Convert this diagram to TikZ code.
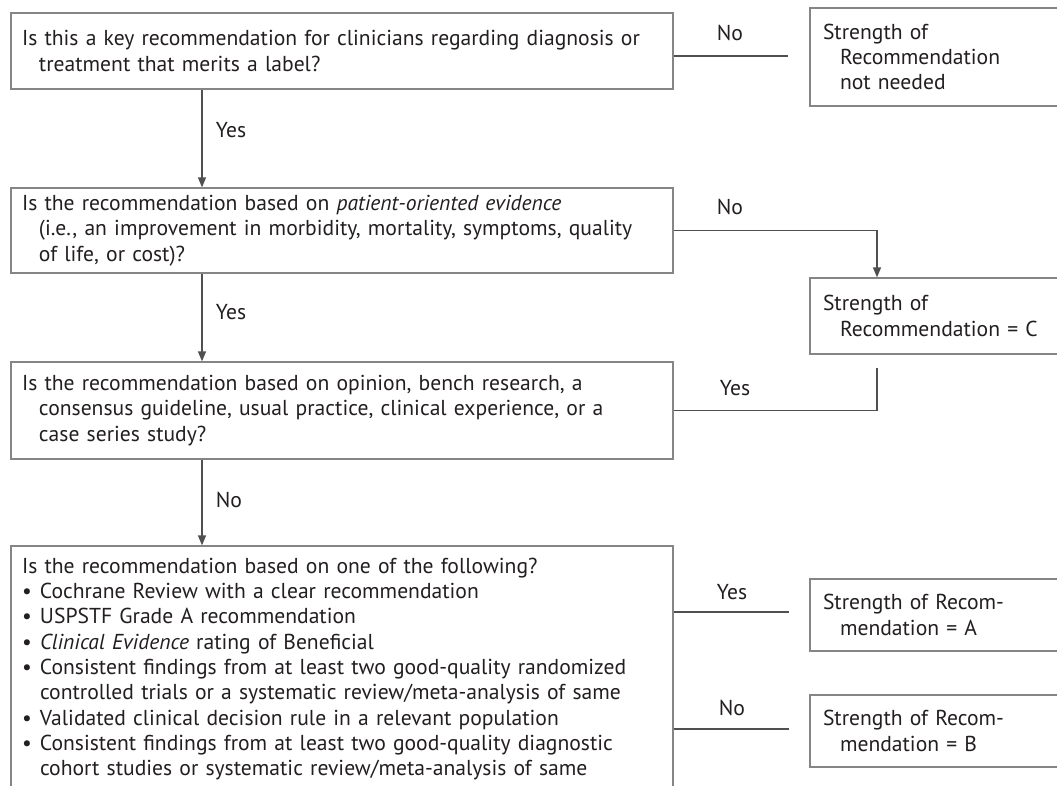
\documentclass[tikz,border=0pt]{standalone}
\usepackage{fontspec}
\setmainfont{PT Sans}
\usetikzlibrary{arrows.meta}
\definecolor{boxgray}{HTML}{858585}
\definecolor{linegray}{HTML}{505050}
\definecolor{txt}{HTML}{231F20}
\newcommand\diafont{\fontsize{21.6}{25.3}\selectfont}
\newcommand\Lin[1]{\mbox{#1}}
\begin{document}
\begin{tikzpicture}[x=1pt,y=-1pt,
  box/.style={draw=boxgray, line width=1.3pt, rectangle, align=left, inner ysep=0pt, font=\diafont, text=txt},
  lbox/.style={box, inner xsep=11pt, text width=640pt},
  rbox/.style={box, inner xsep=13pt, text width=234pt},
  conn/.style={draw=linegray, line width=1.3pt},
  arr/.style={conn, -{Triangle[length=10pt,width=8pt]}},
  lab/.style={font=\diafont, text=txt}
]
\useasboundingbox (0,0) rectangle (1057,785);
\fill[white] (0,0) rectangle (1057,785);
\clip (0,0) rectangle (1057,785);

% left column
\node[lbox, minimum height=76pt] (b1) at (342,51)
  {\Lin{Is this a key recommendation for clinicians regarding diagnosis or}\\
   \Lin{\hspace*{17pt}treatment that merits a label?}};
\node[lbox, minimum height=85pt] (b2) at (342,230.5)
  {\Lin{Is the recommendation based on \textit{patient-oriented evidence}}\\
   \Lin{\hspace*{17pt}(i.e., an improvement in morbidity, mortality, symptoms, quality}\\
   \Lin{\hspace*{17pt}of life, or cost)?}};
\node[lbox, minimum height=97pt] (b3) at (342,410.5)
  {\Lin{Is the recommendation based on opinion, bench research, a}\\
   \Lin{\hspace*{17pt}consensus guideline, usual practice, clinical experience, or a}\\
   \Lin{\hspace*{17pt}case series study?}};
\node[lbox, minimum height=246pt] (b4) at (342,669)
  {\Lin{Is the recommendation based on one of the following?}\\
   \Lin{\makebox[18pt][l]{•}Cochrane Review with a clear recommendation}\\
   \Lin{\makebox[18pt][l]{•}USPSTF Grade A recommendation}\\
   \Lin{\makebox[18pt][l]{•}\textit{Clinical Evidence} rating of Beneficial}\\
   \Lin{\makebox[18pt][l]{•}Consistent findings from at least two good-quality randomized}\\
   \Lin{\hspace*{18pt}controlled trials or a systematic review/meta-analysis of same}\\
   \Lin{\makebox[18pt][l]{•}Validated clinical decision rule in a relevant population}\\
   \Lin{\makebox[18pt][l]{•}Consistent findings from at least two good-quality diagnostic}\\
   \Lin{\hspace*{18pt}cohort studies or systematic review/meta-analysis of same}};

% right column
\node[rbox, minimum height=98pt] (nn) at (940,57)
  {Strength of\\ \hspace*{17pt}Recommendation\\ \hspace*{17pt}not needed};
\node[rbox, minimum height=76pt] (bC) at (940,316)
  {Strength of\\ \Lin{\hspace*{17pt}Recommendation = C}};
\node[rbox, minimum height=72pt] (bA) at (940,615)
  {\Lin{Strength of Recom-}\\ \hspace*{17pt}mendation = A};
\node[rbox, minimum height=72pt] (bB) at (940,731)
  {\Lin{Strength of Recom-}\\ \hspace*{17pt}mendation = B};

% labels
\node[lab] (lno1) at (730,33) {No};
\node[lab] (lyes1) at (231,130) {Yes};
\node[lab] (lno2) at (730,207) {No};
\node[lab] (lyes2) at (231,312) {Yes};
\node[lab] (lyes3) at (735,388) {Yes};
\node[lab] (lno3) at (229,500) {No};
\node[lab] (lyes4) at (732,592) {Yes};
\node[lab] (lno4) at (732,708) {No};

% connectors
\coordinate (ax) at (202,0);
\coordinate (e1) at (788,56);
\coordinate (cx) at (877,368);
\coordinate (ya) at (789,612);
\coordinate (yb) at (789,729);

\draw[conn] (b1.east |- e1) -- (e1);
\draw[arr] (b1.south -| ax) -- (b2.north -| ax);
\draw[arr] (b2.east) -| (cx |- bC.north);
\draw[arr] (b2.south -| ax) -- (b3.north -| ax);
\draw[conn] (b3.east) -| (cx);
\draw[arr] (b3.south -| ax) -- (b4.north -| ax);
\draw[conn] (b4.east |- ya) -- (ya);
\draw[conn] (b4.east |- yb) -- (yb);
\end{tikzpicture}
\end{document}
